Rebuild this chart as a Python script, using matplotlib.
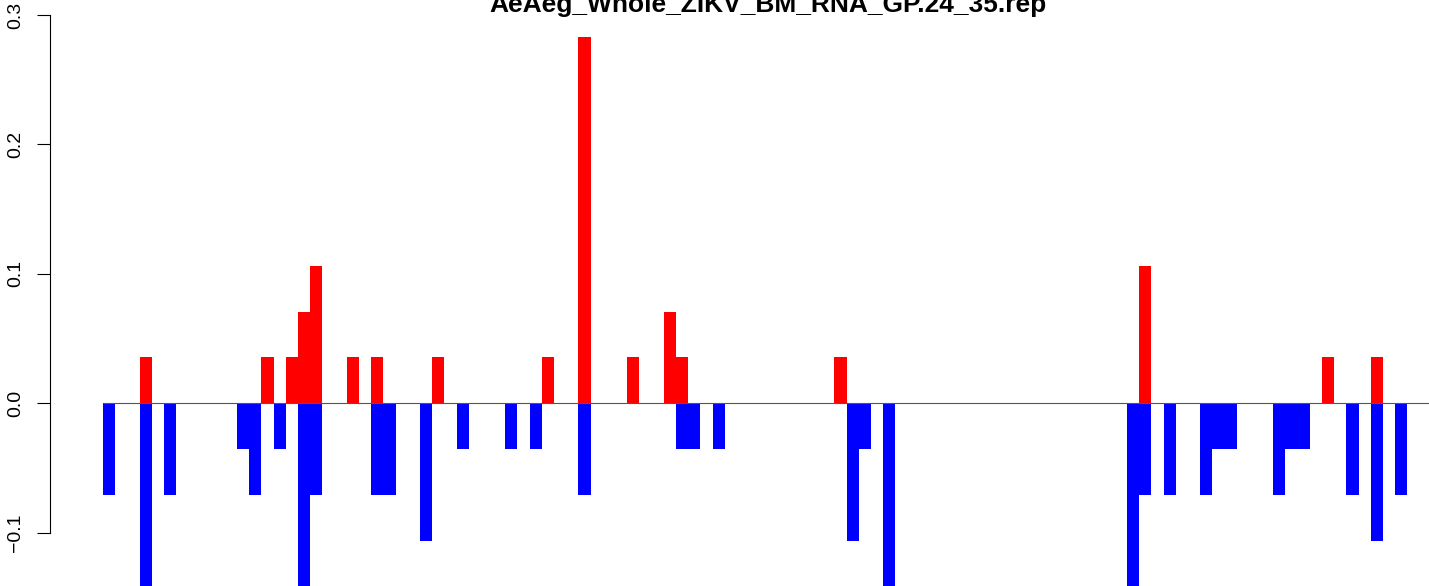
import matplotlib
matplotlib.use("Agg")
import matplotlib.pyplot as plt

# bar slots (left edges) and heights
red_slots = [3, 13, 15, 16, 17, 20, 22, 27, 36, 39, 43, 46, 47, 60, 85, 100, 104]
red_vals = [0.0354, 0.0354, 0.0354, 0.0708, 0.1062, 0.0354, 0.0354, 0.0354, 0.0354,
            0.2833, 0.0354, 0.0708, 0.0354, 0.0354, 0.1062, 0.0354, 0.0354]

blue_slots = [0, 3, 5, 11, 12, 14, 16, 17, 22, 23, 26, 29, 33, 35, 39, 47, 48, 50,
              61, 62, 64, 84, 85, 87, 90, 91, 92, 96, 97, 98, 102, 104, 106]
blue_vals = [-0.0708, -0.1416, -0.0708, -0.0354, -0.0708, -0.0354, -0.1416, -0.0708,
             -0.0708, -0.0708, -0.1062, -0.0354, -0.0354, -0.0354, -0.0708, -0.0354,
             -0.0354, -0.0354, -0.1062, -0.0354, -0.1416, -0.1416, -0.0708, -0.0708,
             -0.0708, -0.0354, -0.0354, -0.0708, -0.0354, -0.0354, -0.0708, -0.1062,
             -0.0708]

n_slots = 109
y_ticks = [-0.1, 0.0, 0.1, 0.2, 0.3]
y_labels = ["\u22120.1", "0.0", "0.1", "0.2", "0.3"]
title = "AeAeg_Whole_ZIKV_BM_RNA_GP.24_35.rep"

plt.rcParams['font.family'] = ['Liberation Sans', 'DejaVu Sans']

W, H = 1429, 586
fig = plt.figure(figsize=(W / 100, H / 100), dpi=100)
ax = fig.add_axes([50 / W, 0, 1 - 50 / W, 1])

ax.bar(blue_slots, blue_vals, width=1.0, align='edge', color='#0000FF',
       edgecolor='none', linewidth=0)
ax.bar(red_slots, red_vals, width=1.0, align='edge', color='#FF0000',
       edgecolor='none', linewidth=0)
ax.hlines(0, 0, n_slots, color='#555555', lw=0.8, zorder=3)

ax.set_xlim((50 - 103) / 12.19, (W - 103) / 12.19)
ax.set_ylim(-(586 - 403.3) / 1294, 0.3 + 15 / 1294)

for s in ['top', 'right', 'bottom']:
    ax.spines[s].set_visible(False)
ax.spines['left'].set_bounds(-0.1, 0.3)
ax.spines['left'].set_linewidth(0.8)
ax.set_xticks([])
ax.set_yticks(y_ticks)
ax.set_yticklabels(y_labels, rotation=90, va='center', ha='right')
ax.tick_params(axis='y', length=9.4, width=0.8, pad=9, labelsize=14)

fig.text(768 / W, 1 - 12 / H, title, ha='center', va='baseline',
         fontsize=19, fontweight='bold')

fig.savefig("out.png", dpi=100)
